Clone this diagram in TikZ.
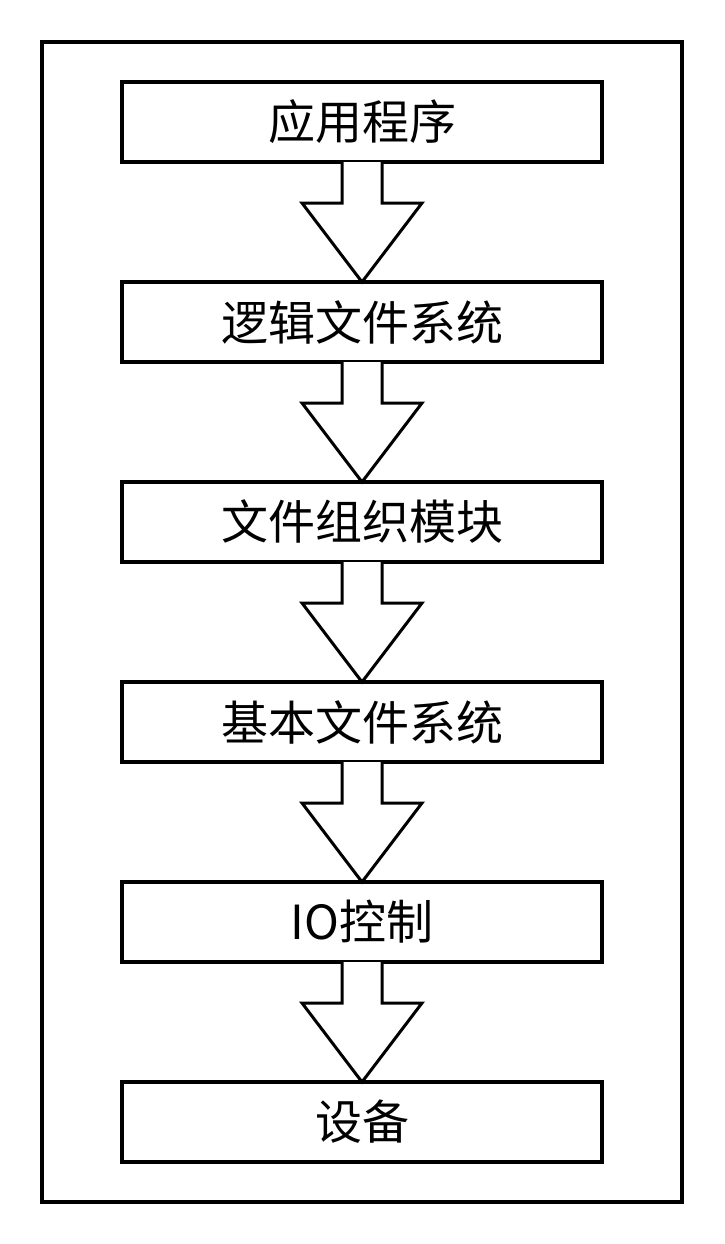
\documentclass[tikz,border=0pt]{standalone}
\usepackage{fontspec}
\newfontfamily\cjk{Noto Sans CJK SC}
\usetikzlibrary{calc}
\begin{document}
\begin{tikzpicture}[x=1pt,y=1pt,
  layerbox/.style={draw=black,line width=3.5pt,minimum width=480pt,minimum height=80pt,inner sep=0pt,outer sep=0pt,font=\cjk\fontsize{47}{52}\selectfont},
  blockarrow/.style={draw=black,line width=3pt,line join=miter,fill=white}]
\useasboundingbox (0,0) rectangle (724,-1244);
\draw[line width=4pt] (42,-42) rectangle (682,-1202);
\node[layerbox] (n1) at (362,-122) {应用程序};
\node[layerbox] (n2) at (362,-322) {逻辑文件系统};
\node[layerbox] (n3) at (362,-522) {文件组织模块};
\node[layerbox] (n4) at (362,-722) {基本文件系统};
\node[layerbox] (n5) at (362,-922) {IO控制};
\node[layerbox] (n6) at (362,-1122) {设备};
\foreach \a/\b in {n1/n2,n2/n3,n3/n4,n4/n5,n5/n6}{
  \draw[blockarrow] ($(\a.south)+(-20,0)$) -- ++(0,-41) -- ++(-40,0) -- (\b.north) -- ($(\a.south)+(60,-41)$) -- ++(-40,0) -- ++(0,41);
}
\end{tikzpicture}
\end{document}
